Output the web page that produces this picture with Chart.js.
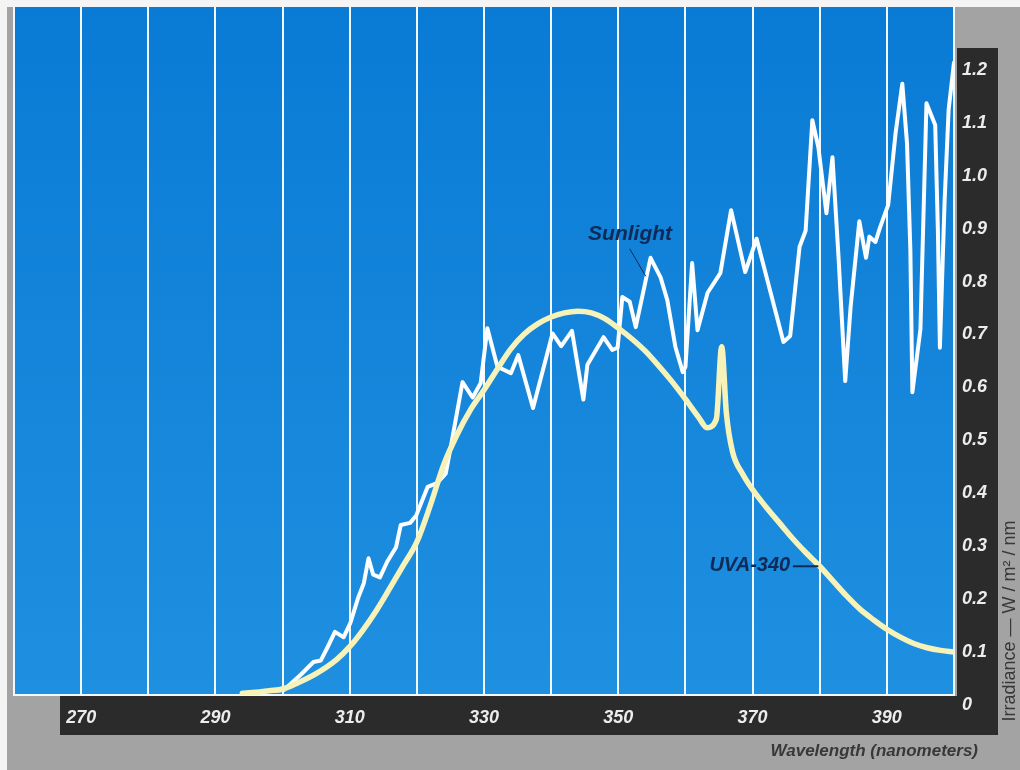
<!DOCTYPE html>
<html>
<head>
<meta charset="utf-8">
<script src="https://cdn.jsdelivr.net/npm/chart.js@4.4.1/dist/chart.umd.min.js"></script>
<style>
html,body{margin:0;padding:0;background:#a3a3a3;overflow:hidden;}
canvas{display:block;}
</style>
</head>
<body>
<canvas id="c" width="1020" height="770"></canvas>
<script>
// ---- data ----
const sunWavelength = [294.0,297.0,300.2,302.7,304.6,305.7,306.7,307.8,309.1,310.1,311.3,312.1,312.8,313.5,314.5,315.6,316.9,317.6,319.0,319.9,321.6,323.0,324.3,325.1,326.8,328.3,329.5,330.5,332.0,334.0,335.1,337.3,340.2,341.5,343.1,344.8,345.4,347.8,349.1,349.9,350.6,351.7,352.6,354.8,356.3,357.3,358.5,359.6,360.0,361.0,361.8,363.3,365.2,366.8,368.9,370.6,374.6,375.6,377.0,377.9,378.9,379.8,381.0,381.9,382.8,383.8,384.6,385.9,386.9,387.4,388.3,389.0,390.2,391.3,392.3,393.0,393.5,393.8,395.0,395.9,397.2,397.6,397.9,398.6,399.2,400.0];
const sunIrradiance = [0.022,0.025,0.028,0.057,0.081,0.084,0.109,0.138,0.128,0.155,0.204,0.230,0.277,0.246,0.241,0.271,0.298,0.340,0.344,0.358,0.412,0.419,0.437,0.491,0.610,0.581,0.608,0.712,0.639,0.627,0.661,0.561,0.702,0.678,0.707,0.577,0.643,0.695,0.671,0.675,0.771,0.762,0.714,0.845,0.808,0.765,0.677,0.629,0.639,0.835,0.708,0.779,0.816,0.935,0.818,0.881,0.686,0.697,0.866,0.896,1.105,1.054,0.929,1.035,0.847,0.612,0.752,0.914,0.845,0.885,0.875,0.903,0.945,1.081,1.174,1.062,0.860,0.591,0.710,1.137,1.096,0.897,0.675,0.952,1.125,1.214];

const uvaWavelength = [294,296,298,300,302,305,308,310,312,314,316,318,320,322,324,326,328,330,332,334,336,338,340,342,344,346,348,350,352,354,356,358,360,362,363.2,364.6,365.4,366.1,367,368.5,370,372,374,376,378,380,382,384,386,388,390,392,394,396,398,400];
const uvaIrradiance = [0.022,0.024,0.027,0.030,0.040,0.059,0.085,0.110,0.142,0.179,0.221,0.264,0.308,0.377,0.454,0.511,0.558,0.595,0.635,0.673,0.701,0.720,0.733,0.741,0.744,0.741,0.730,0.712,0.692,0.669,0.641,0.611,0.578,0.543,0.524,0.540,0.677,0.551,0.479,0.437,0.407,0.374,0.344,0.314,0.287,0.262,0.234,0.206,0.181,0.161,0.143,0.128,0.116,0.108,0.103,0.100];

const xGridValues = [260,270,280,290,300,310,320,330,340,350,360,370,380,390,400];
const xLabelValues = [270,290,310,330,350,370,390];
const yTickValues = [0,0.1,0.2,0.3,0.4,0.5,0.6,0.7,0.8,0.9,1.0,1.1,1.2];

const xAxisTitle = 'Wavelength (nanometers)';
const yAxisTitle = 'Irradiance — W / m² / nm';
const sunLabel = 'Sunlight';
const uvaLabel = 'UVA-340';

const FONT = "'Liberation Sans', Arial, Helvetica, sans-serif";

const backdrop = {
  id: 'backdrop',
  beforeDraw(chart) {
    const ctx = chart.ctx, a = chart.chartArea;
    ctx.save();
    ctx.fillStyle = '#a3a3a3';
    ctx.fillRect(0, 0, chart.width, chart.height);
    ctx.fillStyle = '#f4f4f4';
    ctx.fillRect(0, 0, chart.width, 7);
    ctx.fillRect(0, 0, 7, chart.height);
    // dark axis bars
    ctx.fillStyle = '#2b2b2b';
    ctx.fillRect(60, a.bottom + 1, 998 - 60, 735 - a.bottom - 1);
    ctx.fillRect(a.right + 3, 48, 998 - a.right - 3, 735 - 48);
    // plot area
    const g = ctx.createLinearGradient(0, a.top, 0, a.bottom);
    g.addColorStop(0, '#0a7bd5');
    g.addColorStop(1, '#1f8fe0');
    ctx.fillStyle = g;
    ctx.fillRect(a.left, a.top, a.right - a.left, a.bottom - a.top);
    ctx.restore();
  },
  afterDraw(chart) {
    const ctx = chart.ctx, xs = chart.scales.x, ys = chart.scales.y;
    ctx.save();
    // annotations
    ctx.fillStyle = '#0e2a56';
    ctx.strokeStyle = '#0e2a56';
    ctx.font = "italic bold 21px " + FONT;
    ctx.textAlign = 'center';
    ctx.textBaseline = 'middle';
    ctx.fillText(sunLabel, xs.getPixelForValue(351.75), ys.getPixelForValue(0.890));
    ctx.lineWidth = 1;
    ctx.beginPath();
    ctx.moveTo(xs.getPixelForValue(351.7), ys.getPixelForValue(0.862));
    ctx.lineTo(xs.getPixelForValue(354.1), ys.getPixelForValue(0.810));
    ctx.stroke();

    ctx.font = "italic bold 20px " + FONT;
    ctx.textAlign = 'right';
    ctx.fillText(uvaLabel, xs.getPixelForValue(375.6), ys.getPixelForValue(0.264));
    ctx.lineWidth = 2;
    ctx.beginPath();
    ctx.moveTo(xs.getPixelForValue(376.0), ys.getPixelForValue(0.262));
    ctx.lineTo(xs.getPixelForValue(379.8), ys.getPixelForValue(0.262));
    ctx.stroke();

    // axis titles
    ctx.fillStyle = '#383838';
    ctx.font = "italic bold 17px " + FONT;
    ctx.textAlign = 'right';
    ctx.fillText(xAxisTitle, 978, 751);

    ctx.font = "18px " + FONT;
    ctx.translate(1010, 621);
    ctx.rotate(-Math.PI / 2);
    ctx.textAlign = 'center';
    ctx.fillText(yAxisTitle, 0, 0);
    ctx.restore();
  }
};

const tickFont = {family: FONT, size: 18, style: 'italic', weight: 'bold'};

new Chart(document.getElementById('c'), {
  type: 'line',
  data: {
    datasets: [
      {
        label: uvaLabel,
        data: uvaWavelength.map((x, i) => ({x: x, y: uvaIrradiance[i]})),
        borderColor: '#f7f3b8',
        borderWidth: 5.5,
        pointRadius: 0,
        cubicInterpolationMode: 'monotone',
        borderJoinStyle: 'round',
        borderCapStyle: 'round',
        fill: false
      },
      {
        label: sunLabel,
        data: sunWavelength.map((x, i) => ({x: x, y: sunIrradiance[i]})),
        borderColor: '#fcfdff',
        borderWidth: 4,
        pointRadius: 0,
        tension: 0,
        borderJoinStyle: 'round',
        borderCapStyle: 'round',
        fill: false
      }
    ]
  },
  options: {
    responsive: false,
    animation: false,
    devicePixelRatio: 1,
    layout: {padding: {left: 14, top: 7, right: 0, bottom: 0}},
    plugins: {legend: {display: false}, tooltip: {enabled: false}},
    scales: {
      x: {
        type: 'linear',
        position: 'bottom',
        min: 260,
        max: 400,
        afterBuildTicks(s) { s.ticks = xGridValues.map(v => ({value: v})); },
        afterFit(s) { s.height = 75; s.paddingLeft = 0; s.paddingRight = 0; },
        ticks: {
          autoSkip: false,
          maxRotation: 0,
          padding: 12,
          color: '#ececec',
          font: tickFont,
          callback: (v) => xLabelValues.includes(v) ? String(v) : ''
        },
        grid: {color: '#f2f8ff', lineWidth: 2, drawTicks: false},
        border: {display: true, color: '#f2f8ff', width: 2}
      },
      y: {
        type: 'linear',
        position: 'right',
        min: 0.0187,
        max: 1.319,
        afterBuildTicks(s) { s.ticks = yTickValues.map(v => ({value: v})); },
        afterFit(s) { s.width = 66; s.paddingTop = 0; s.paddingBottom = 0; },
        ticks: {
          padding: 8,
          color: '#ececec',
          font: tickFont,
          callback: (v) => v === 0 ? '0' : v.toFixed(1)
        },
        grid: {display: false, drawTicks: false},
        border: {display: true, color: '#f2f8ff', width: 2}
      }
    }
  },
  plugins: [backdrop]
});
</script>
</body>
</html>
